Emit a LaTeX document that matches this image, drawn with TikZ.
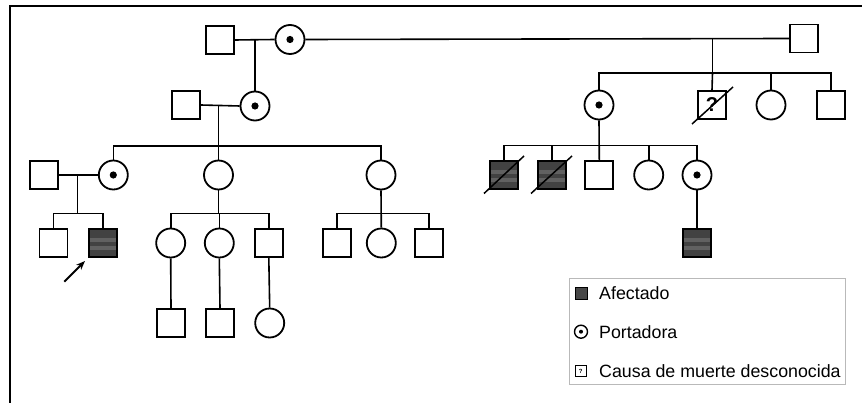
\documentclass[tikz,border=0pt]{standalone}
\usepackage{fontspec}
\setmainfont{Liberation Sans}
\usetikzlibrary{arrows.meta,calc}
\tikzset{
  male/.style={draw, rectangle, minimum size=28pt, inner sep=0pt, line width=1.8pt, fill=white},
  female/.style={draw, circle, minimum size=29pt, inner sep=0pt, line width=1.8pt, fill=white},
  carrier/.style={female, path picture={\fill[black] (path picture bounding box.center) circle (3.6pt);}},
  affected/.style={male, fill=black!74, path picture={
      \fill[black!62] ([yshift=-9pt]path picture bounding box.north west) rectangle ([yshift=-13pt]path picture bounding box.north east);
      \fill[black!62] ([yshift=7pt]path picture bounding box.south west) rectangle ([yshift=11pt]path picture bounding box.south east);}},
  unknown/.style={male, font=\bfseries\fontsize{20}{20}\selectfont},
  link/.style={line width=1.6pt},
  slash/.style={line width=1.5pt},
  legaff/.style={draw, rectangle, minimum size=12pt, inner sep=0pt, line width=1pt, fill=black!72},
  legcar/.style={draw, circle, minimum size=13pt, inner sep=0pt, line width=1.4pt, path picture={\fill[black] (path picture bounding box.center) circle (2pt);}},
  legunk/.style={draw, rectangle, minimum size=11pt, inner sep=0pt, line width=1.1pt, font=\bfseries\fontsize{6}{6}\selectfont},
  legtext/.style={anchor=west, inner sep=0pt, font=\fontsize{17.8}{20}\selectfont}
}
\begin{document}
\begin{tikzpicture}[x=1pt, y=-1pt]
\useasboundingbox (0,0) rectangle (862,403);
% frame
\draw[line width=2.4pt] (10,403) -- (10,6) -- (862,6);

% Generation I
\node[male] (I1) at (220,40) {};
\node[carrier] (I2) at (290,39.5) {};
\node[male] (I3) at (804,38.5) {};
\coordinate (m1) at (255,39.5);
\coordinate (m2) at (712.5,39);
\draw[link] (I1.east) -- (I2.west);
\draw[link] (I2.east) -- (I3.west);

% Generation II left
\node[male] (II1) at (186,105) {};
\node[carrier] (II2) at (255,106) {};
\draw[link] (m1) -- (II2.north);
\draw[link] (II1.east) -- (II2.west);
\coordinate (m3) at (218.5,106);
\coordinate (s3) at (218.5,146);

% Generation II right
\coordinate (s2) at (712.5,73);
\node[carrier] (II3) at (599,105) {};
\node[unknown] (II4) at (712,105) {?};
\node[female] (II5) at (771,105) {};
\node[male] (II6) at (831,105) {};
\draw[link] (m2) -- (s2);
\draw[link] (II3.north) |- (s2) -| (II6.north);
\draw[link] (s2) -- (II4.north);
\draw[link] (II5.north) -- ++(0,-17.5);
\draw[slash] ($(II4.center)+(-20,19)$) -- ($(II4.center)+(21,-18)$);

% Generation III left
\node[carrier] (III1) at (113.3,175) {};
\node[female] (III2) at (218.5,175) {};
\node[female] (III3) at (381,175) {};
\node[male] (III0) at (44,175) {};
\draw[link] (m3) -- (III2.north);
\draw[link] (III1.north) |- (s3) -| (III3.north);
\draw[link] (III0.east) -- (III1.west);
\coordinate (m4) at (77.3,175);
\coordinate (s4) at (77.3,213.5);
\draw[link] (m4) -- (s4);

% Generation III right
\coordinate (s5) at (599,145.7);
\node[affected] (III4) at (504,175) {};
\node[affected] (III5) at (552,175) {};
\node[male] (III6) at (599.3,175) {};
\node[female] (III7) at (648.7,175) {};
\node[carrier] (III8) at (697,175) {};
\draw[link] (II3.south) -- (III6.north);
\draw[link] (III4.north) |- (s5) -| (III8.north);
\draw[link] (III5.north) -- ++(0,-15.3);
\draw[link] (III7.north) -- ++(0,-14.8);
\draw[slash] ($(III4.center)+(-20,18.5)$) -- ($(III4.center)+(20,-19)$);
\draw[slash] ($(III5.center)+(-21,18.5)$) -- ($(III5.center)+(20,-19)$);

% Generation IV
\node[male] (IV1) at (53.5,243) {};
\node[affected] (IV2) at (103,243) {};
\draw[link] (IV1.north) |- (s4) -| (IV2.north);

\coordinate (s6) at (218.5,213.5);
\node[female] (IV3) at (170.7,243) {};
\node[female] (IV4) at (219.3,243) {};
\node[male] (IV5) at (268.8,243) {};
\draw[link] (III2.south) -- (s6);
\draw[link] (IV3.north) |- (s6) -| (IV5.north);
\draw[link] (IV4.north) -- ++(0,-14.5);

\coordinate (s7) at (381,213.5);
\node[male] (IV6) at (336.7,243) {};
\node[female] (IV7) at (381.3,243) {};
\node[male] (IV8) at (428.8,243) {};
\draw[link] (III3.south) -- (IV7.north);
\draw[link] (IV6.north) |- (s7) -| (IV8.north);

\node[affected] (IV9) at (697,243) {};
\draw[link] (III8.south) -- (IV9.north);

% Generation V
\node[male] (V1) at (171,323) {};
\node[male] (V2) at (220,323) {};
\node[female] (V3) at (269.7,323) {};
\draw[link] (IV3.south) -- (V1.north);
\draw[link] (IV4.south) -- (V2.north);
\draw[link] (IV5.south) -- (V3.north);

% proband arrow
\coordinate (a0) at (64.3,281.7);
\coordinate (a1) at (85,261);
\draw[line width=1.8pt, -{Stealth[length=9pt,width=7pt]}] (a0) -- (a1);

% legend
\node[draw=gray!55, line width=1pt, rectangle, inner sep=0pt, minimum width=275.7pt, minimum height=106pt] (leg) at (707.2,331.3) {};
\node[legaff] (k1) at (581,293.3) {};
\node[legtext] (t1) at (599,293.3) {Afectado};
\node[legcar] (k2) at (581,331.7) {};
\node[legtext] (t2) at (599,331.7) {Portadora};
\node[legunk] (k3) at (580.7,371) {?};
\node[legtext] (t3) at (599,371) {Causa de muerte desconocida};
\end{tikzpicture}
\end{document}
